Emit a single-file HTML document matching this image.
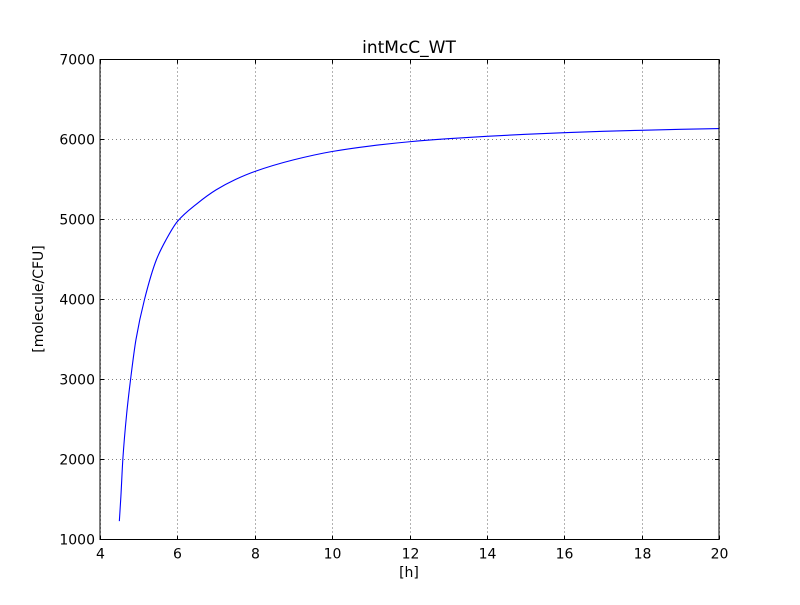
<!DOCTYPE html>
<html><head><meta charset="utf-8"><style>
html,body{margin:0;padding:0;background:#fff;}
svg text{font-family:"DejaVu Sans","Liberation Sans",sans-serif;fill:#000;}
</style></head><body>
<svg id="chart" width="800" height="600" xmlns="http://www.w3.org/2000/svg">
<rect width="800" height="600" fill="#fff"/>
<g id="grid"></g>
<path id="curve" fill="none" stroke="#0000ff" stroke-width="1.1"/>
<rect x="100" y="59.5" width="619" height="480" fill="none" stroke="#000" stroke-width="1"/>
<g id="ticks"></g>
<text x="409" y="53" font-size="17" text-anchor="middle">intMcC_WT</text>
<text x="409" y="577" font-size="14" text-anchor="middle">[h]</text>
<text x="43" y="299" font-size="14" text-anchor="middle" transform="rotate(-90 43 299)">[molecule/CFU]</text>
</svg>
<script>
const xTicks=[4,6,8,10,12,14,16,18,20];
const yTicks=[1000,2000,3000,4000,5000,6000,7000];
const xs=[4.5,4.54,4.59,4.69,4.79,4.93,5.15,5.46,5.7,6.0,6.5,7,7.5,8,9,10,11,12,13,14,15,16,17,18,19,20];
const ys=[1230,1540,2000,2575,3000,3500,4000,4500,4740,4975,5195,5370,5500,5600,5745,5850,5920,5972,6010,6040,6065,6085,6102,6115,6127,6137];
const L=100,R=719,T=59.5,B=539.5;
const sx=v=>L+(v-4)/(20-4)*(R-L);
const sy=v=>B-(v-1000)/(7000-1000)*(B-T);
const NS="http://www.w3.org/2000/svg";
const grid=document.getElementById('grid'),ticks=document.getElementById('ticks');
function mk(tag,attrs,parent){const e=document.createElementNS(NS,tag);for(const k in attrs)e.setAttribute(k,attrs[k]);parent.appendChild(e);return e;}
xTicks.forEach(v=>{const x=Math.round(sx(v))+0.5;
 const g=mk('line',{x1:x,x2:x,y1:T,y2:B,stroke:'#000','stroke-width':0.6,'stroke-dasharray':'1,3'},grid);
 
 
 const t1=mk('line',{x1:x,x2:x,y1:B,y2:B-4,stroke:'#000'},ticks);
 
 
 const t2=mk('line',{x1:x,x2:x,y1:T,y2:T+4,stroke:'#000'},ticks);
 
 
 const lb=mk('text',{x:x,y:B+19,'font-size':14,'text-anchor':'middle'},ticks);lb.textContent=v;
 
 
});
yTicks.forEach(v=>{const y=Math.round(sy(v)-0.5)+0.5;
 const g=mk('line',{x1:L,x2:R,y1:y,y2:y,stroke:'#000','stroke-width':0.6,'stroke-dasharray':'1,3'},grid);
 
 
 const t1=mk('line',{x1:L,x2:L+4,y1:y,y2:y,stroke:'#000'},ticks);
 
 
 const t2=mk('line',{x1:R,x2:R-4,y1:y,y2:y,stroke:'#000'},ticks);
 
 
 const lb=mk('text',{x:L-5,y:y+5,'font-size':14,'text-anchor':'end'},ticks);lb.textContent=v;
 
 
});
const P=xs.map((x,i)=>[sx(x),sy(ys[i])]);
const n=P.length,dk=[],m=[];
for(let i=0;i<n-1;i++)dk.push((P[i+1][1]-P[i][1])/(P[i+1][0]-P[i][0]));
m[0]=dk[0];m[n-1]=dk[n-2];
for(let i=1;i<n-1;i++){ if(dk[i-1]*dk[i]<=0)m[i]=0; else { const h0=P[i][0]-P[i-1][0],h1=P[i+1][0]-P[i][0];
  const w1=2*h1+h0,w2=h1+2*h0; m[i]=(w1+w2)/(w1/dk[i-1]+w2/dk[i]); } }
let d='M'+P[0][0]+','+P[0][1];
for(let i=0;i<n-1;i++){const h=(P[i+1][0]-P[i][0])/3;
 d+=' C'+(P[i][0]+h)+','+(P[i][1]+m[i]*h)+' '+(P[i+1][0]-h)+','+(P[i+1][1]-m[i+1]*h)+' '+P[i+1][0]+','+P[i+1][1];}
document.getElementById('curve').setAttribute('d',d);
</script>
</body></html>
